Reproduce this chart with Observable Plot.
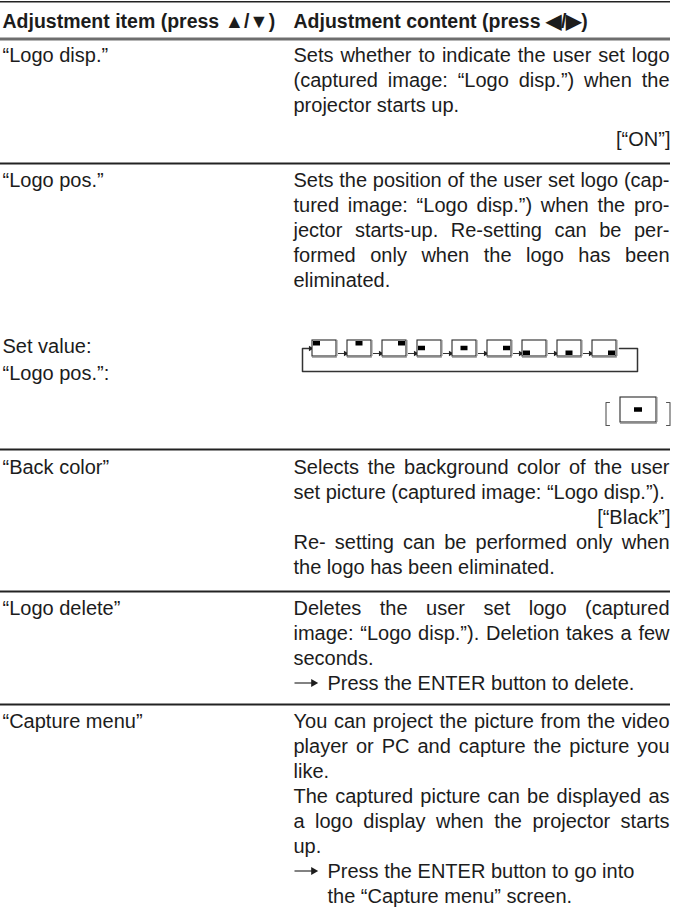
<!DOCTYPE html>
<html>
<head>
<meta charset="utf-8">
<script src="https://cdn.jsdelivr.net/npm/d3@7"></script>
<script src="https://cdn.jsdelivr.net/npm/@observablehq/plot@0.6"></script>
<style>
  html, body { margin: 0; padding: 0; background: #fff; }
  #chart svg { display: block; }
</style>
</head>
<body>
<div id="chart"></div>
<script>
// ---------- content ----------
const headers = ["Adjustment item (press ▲/▼)", "Adjustment content (press ◀/▶)"];
const items = ["“Logo disp.”", "“Logo pos.”", "“Back color”", "“Logo delete”", "“Capture menu”"];
const row1Text = [["Sets whether to indicate the user set logo", "(captured image: “Logo disp.”) when the", "projector starts up."]];
const row1Default = "[“ON”]";
const row2Text = [["Sets the position of the user set logo (cap-", "tured image: “Logo disp.”) when the pro-", "jector starts-up. Re-setting can be per-", "formed only when the logo has been", "eliminated."]];
const setValueLabels = ["Set value:", "“Logo pos.”:"];
const logoPositions = ["top-left", "top-center", "top-right", "middle-left", "middle-center", "middle-right", "bottom-left", "bottom-center", "bottom-right"];
const logoPosDefault = "middle-center";
const row3TextA = [["Selects the background color of the user", "set picture (captured image: “Logo disp.”)."]];
const row3Default = "[“Black”]";
const row3TextB = [["Re- setting can be performed only when", "the logo has been eliminated."]];
const row4Text = [["Deletes the user set logo (captured", "image: “Logo disp.”). Deletion takes a few", "seconds."], ["→ Press the ENTER button to delete."]];
const row5Text = [["You can project the picture from the video", "player or PC and capture the picture you", "like."], ["The captured picture can be displayed as", "a logo display when the projector starts", "up."], ["→ Press the ENTER button to go into", "the “Capture menu” screen."]];

// ---------- layout ----------
const W = 686, H = 921;
const FS = 20, HFS = 19.5, L = 25;
const FONT = '"Liberation Sans", Arial, Helvetica, sans-serif';
const xL = 2, xC = 293, xR = 669;
const ARROW_INDENT = 34;
const ink = "#1c1c1c";

const ctx = document.createElement("canvas").getContext("2d");
ctx.font = `${FS}px "Liberation Sans"`;
const tw = s => ctx.measureText(s).width;

const body = [];     // start-anchored pieces, right column
const left = [];     // left column labels
const rightEnd = []; // right aligned defaults
const rules = [];
const textArrows = []; // "→" bullets drawn as arrows

function placeLine(line, y, justify, x0) {
  if (!justify) { body.push({x: x0, y, t: line}); return; }
  const ws = line.split(" ");
  const widths = ws.map(tw);
  const sum = d3.sum(widths);
  const gap = (xR - x0 - sum) / (ws.length - 1);
  let x = x0;
  ws.forEach((w, i) => { body.push({x, y, t: w}); x += widths[i] + gap; });
}
function placeParas(paras, y) {
  let last = y;
  paras.forEach(lines => {
    const arrow = lines[0].startsWith("→");
    lines.forEach((ln, i) => {
      const yy = y + i * L;
      let text = ln, x0 = xC;
      if (arrow) {
        x0 = xC + ARROW_INDENT;
        if (i === 0) { text = ln.replace(/^→\s*/, ""); textArrows.push({x1: xC + 1, x2: xC + 20, y: yy - 6.5}); }
      }
      placeLine(text, yy, !arrow && i < lines.length - 1, x0);
      last = yy;
    });
    y += lines.length * L;
  });
  return last;
}

// Row 1
let y = 61;
left.push({x: xL, y, t: items[0]});
let last = placeParas(row1Text, y);
rightEnd.push({x: xR + 1, y: last + 34, t: row1Default});
rules.push({y: 163});
// Row 2
y = 186;
left.push({x: xL, y, t: items[1]});
last = placeParas(row2Text, y);
left.push({x: xL, y: 352, t: setValueLabels[0]});
left.push({x: xL, y: 379, t: setValueLabels[1]});
rules.push({y: 449});
// Row 3
y = 473;
left.push({x: xL, y, t: items[2]});
last = placeParas(row3TextA, y);
rightEnd.push({x: xR + 1, y: last + L, t: row3Default});
last = placeParas(row3TextB, last + 2 * L);
rules.push({y: 591});
// Row 4
y = 614;
left.push({x: xL, y, t: items[3]});
last = placeParas(row4Text, y);
rules.push({y: 704});
// Row 5
y = 727;
left.push({x: xL, y, t: items[4]});
last = placeParas(row5Text, y);

// Diagram of logo positions
const boxW = 24, boxH = 16, pitch = 35, bx0 = 312, by0 = 340;
const markW = 7, markH = 4.5;
function markFor(pos, x1, y1, w, h, mw, mh) {
  const [v, hz] = pos.split("-");
  const mx = hz === "left" ? x1 + 1 : hz === "right" ? x1 + w - 1 - mw : x1 + (w - mw) / 2;
  const my = v === "top" ? y1 + 1 : v === "bottom" ? y1 + h - 1 - mh : y1 + (h - mh) / 2;
  return {x1: mx, x2: mx + mw, y1: my, y2: my + mh};
}
const boxes = logoPositions.map((p, i) => ({p, x1: bx0 + i * pitch, x2: bx0 + i * pitch + boxW, y1: by0, y2: by0 + boxH}));
const marks = boxes.map(b => markFor(b.p, b.x1, b.y1, boxW, boxH, markW, markH));
const links = d3.range(boxes.length - 1).map(i => ({x1: boxes[i].x2 + 1.5, x2: boxes[i + 1].x1 - 2, y: by0 + 13}));
const loopY = by0 + 8, loopBottom = 371, loopL = 302, loopR = 637;
const loop = [
  {x: boxes[boxes.length - 1].x2 + 3, y: loopY},
  {x: loopR, y: loopY},
  {x: loopR, y: loopBottom},
  {x: loopL, y: loopBottom},
  {x: loopL, y: loopY},
  {x: boxes[0].x1 - 2, y: loopY}
];
const smallHeads = [...links.map(d => ({x: d.x2, y: d.y})), {x: boxes[0].x1 - 2, y: loopY}];

// default box
const dBox = {x1: 620, x2: 656, y1: 397, y2: 422};
const dMark = markFor(logoPosDefault, dBox.x1, dBox.y1, 36, 25, 8, 4.5);
const bracketL = [{x: 609, y: 402}, {x: 605.5, y: 402}, {x: 605.5, y: 425}, {x: 609, y: 425}];
const bracketR = [{x: 666, y: 402}, {x: 669.5, y: 402}, {x: 669.5, y: 425}, {x: 666, y: 425}];

const allBoxes = [...boxes, dBox];
const allMarks = [...marks, dMark];

const textOpts = {x: "x", y: "y", text: "t", textAnchor: "start", lineAnchor: "top", dy: -0.71 * FS, fontSize: FS, fill: ink};

const chart = Plot.plot({
  width: W, height: H, margin: 0,
  x: {type: "linear", domain: [0, W], range: [0, W], axis: null},
  y: {type: "linear", domain: [0, H], range: [0, H], axis: null},
  style: {fontFamily: FONT, background: "#fff", color: ink},
  marks: [
    // rules
    Plot.ruleY([{y: 1.2}], {y: "y", x1: 0, x2: 670, stroke: "#222", strokeWidth: 1.6}),
    Plot.ruleY([{y: 38.5}], {y: "y", x1: 0, x2: 670, stroke: "#6e6e6e", strokeWidth: 3}),
    Plot.ruleY(rules, {y: "y", x1: 0, x2: 670, stroke: "#222", strokeWidth: 1.8}),
    // header
    Plot.text([{x: xL, t: headers[0]}, {x: xC, t: headers[1]}], {x: "x", y: () => 27, text: "t", textAnchor: "start", lineAnchor: "top", dy: -0.71 * HFS, fontSize: HFS, fontWeight: "bold", fill: ink}),
    // left labels
    Plot.text(left, textOpts),
    // body
    Plot.text(body, textOpts),
    Plot.text(rightEnd, {...textOpts, textAnchor: "end"}),
    // arrows in text
    Plot.link(textArrows, {x1: "x1", x2: "x2", y1: "y", y2: "y", stroke: ink, strokeWidth: 1.1}),
    Plot.dot(textArrows, {x: "x2", y: "y", symbol: "triangle", rotate: 90, r: 3, fill: ink, stroke: "none"}),
    // diagram
    Plot.line(loop, {x: "x", y: "y", stroke: "#333", strokeWidth: 1.5, curve: "linear"}),
    Plot.link(links, {x1: "x1", x2: "x2", y1: "y", y2: "y", stroke: "#333", strokeWidth: 1}),
    Plot.dot(smallHeads, {x: "x", y: "y", symbol: "triangle", rotate: 90, r: 2, fill: "#222", stroke: "none"}),
    Plot.rect(allBoxes, {x1: "x1", x2: "x2", y1: "y1", y2: "y2", fill: "#fff", stroke: "#2a2a2a", strokeWidth: 1.1}),
    Plot.ruleY(allBoxes, {y: d => d.y2 + 0.4, x1: "x1", x2: d => d.x2 + 0.8, stroke: "#8a8a8a", strokeWidth: 1.6}),
    Plot.ruleX(allBoxes, {x: d => d.x2 + 0.4, y1: "y1", y2: "y2", stroke: "#8a8a8a", strokeWidth: 1.2}),
    Plot.rect(allMarks, {x1: "x1", x2: "x2", y1: "y1", y2: "y2", fill: "#000"}),
    Plot.line(bracketL, {x: "x", y: "y", stroke: "#555", strokeWidth: 1.1, curve: "linear"}),
    Plot.line(bracketR, {x: "x", y: "y", stroke: "#555", strokeWidth: 1.1, curve: "linear"})
  ]
});
document.getElementById("chart").appendChild(chart);
</script>
</body>
</html>
